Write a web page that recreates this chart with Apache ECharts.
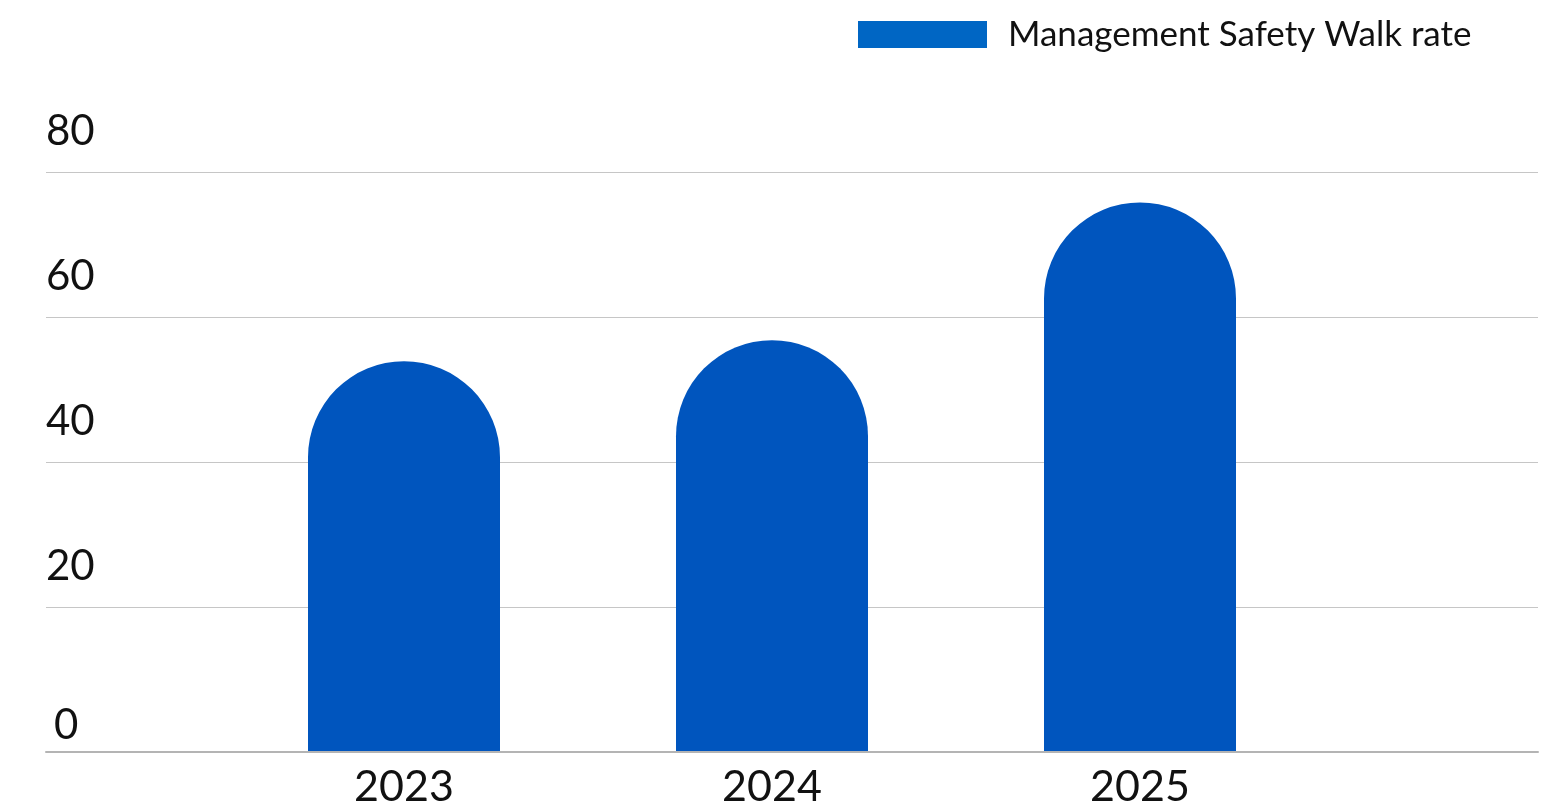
<!DOCTYPE html>
<html>
<head>
<meta charset="utf-8">
<script src="https://cdn.jsdelivr.net/npm/echarts@6/dist/echarts.min.js"></script>
<style>
html,body{margin:0;padding:0;background:#fff;}
#chart{width:1547px;height:810px;}
</style>
</head>
<body>
<div id="chart"></div>
<script>
const categories = ['2023', '2024', '2025'];
const seriesName = 'Management Safety Walk rate';
const values = [53.9, 56.8, 75.8];
const yTicks = [0, 20, 40, 60, 80];

const FONT = 'Lato';
const chart = echarts.init(document.getElementById('chart'));
chart.setOption({
  animation: false,
  backgroundColor: '#ffffff',
  legend: {
    left: 853, top: 12,
    itemWidth: 129, itemHeight: 27, icon: 'rect',
    data: [{ name: seriesName, itemStyle: { color: '#0066c4' } }],
    textStyle: { fontFamily: FONT, fontSize: 35, color: '#111', padding: [0, 0, 14, 16] }
  },
  grid: [
    { left: 46, right: 9, top: 172, bottom: 58 },
    { left: 220, right: 223, top: 172, bottom: 58 }
  ],
  xAxis: [
    { type: 'category', gridIndex: 0, data: [''], z: 5,
      axisLine: { lineStyle: { color: '#b4b4b4', width: 2 } },
      axisTick: { show: false }, axisLabel: { show: false }, splitLine: { show: false } },
    { type: 'category', gridIndex: 1, data: categories,
      axisLine: { show: false }, axisTick: { show: false },
      axisLabel: { fontFamily: FONT, fontSize: 43, color: '#111', margin: 14 } }
  ],
  yAxis: [
    { type: 'value', gridIndex: 0, min: yTicks[0], max: yTicks[yTicks.length - 1], interval: 20,
      axisLine: { show: false }, axisTick: { show: false },
      splitLine: { lineStyle: { color: '#c6c6c6', width: 1 } },
      axisLabel: {
        inside: true, margin: 0, verticalAlign: 'bottom',
        formatter: v => v === 0 ? '{z|0}' : '{n|' + v + '}',
        rich: {
          n: { fontFamily: FONT, fontSize: 42, color: '#111', padding: [0, 0, 20, 0] },
          z: { fontFamily: FONT, fontSize: 42, color: '#111', padding: [0, 0, 6, 8] }
        }
      } },
    { type: 'value', gridIndex: 1, min: yTicks[0], max: yTicks[yTicks.length - 1], interval: 20, show: false,
      splitLine: { show: false } }
  ],
  series: [{
    name: seriesName, type: 'bar', xAxisIndex: 1, yAxisIndex: 1,
    data: values, barWidth: 192,
    itemStyle: { color: '#0055be', borderRadius: [96, 96, 0, 0] }
  }]
});
</script>
</body>
</html>
